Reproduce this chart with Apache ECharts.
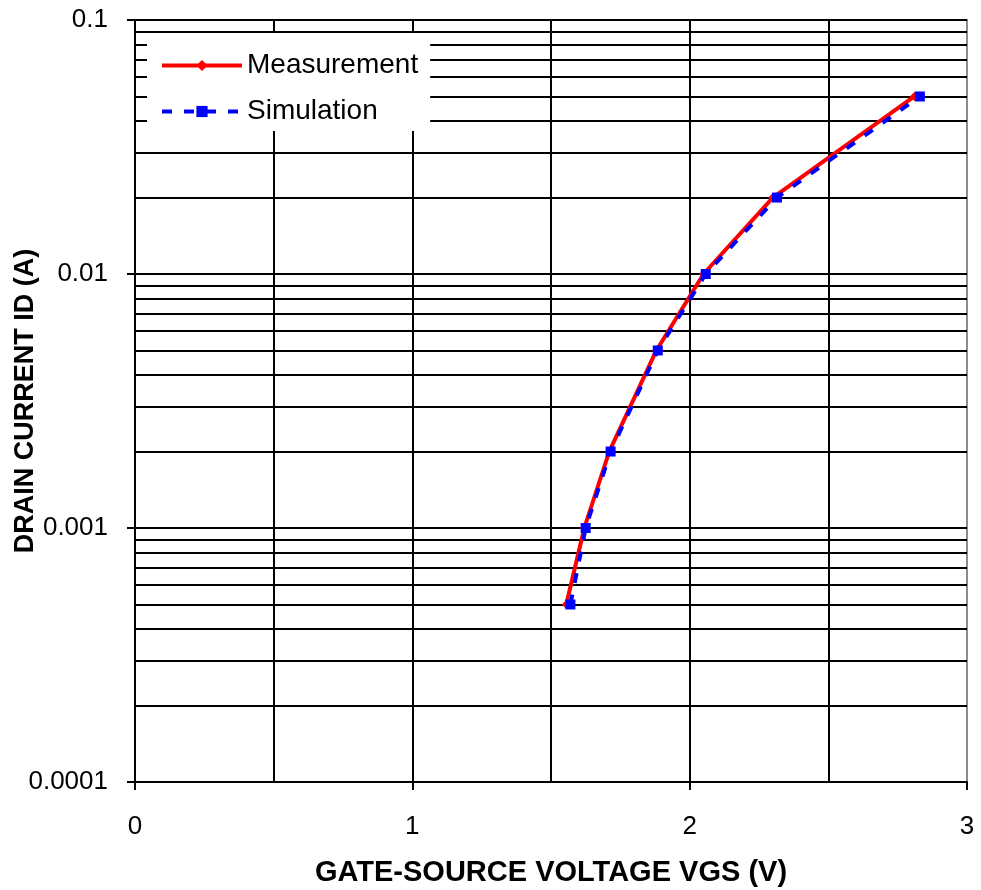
<!DOCTYPE html>
<html>
<head>
<meta charset="utf-8">
<script src="https://cdn.jsdelivr.net/npm/echarts@6/dist/echarts.min.js"></script>
<style>html,body{margin:0;padding:0;background:#fff}#c{width:981px;height:890px}</style>
</head>
<body>
<div id="c"></div>
<script>
// Data
var measurementVgs = [1.555, 1.62, 1.71, 1.88, 2.05, 2.30, 2.81];
var measurementId  = [0.0005, 0.001, 0.002, 0.005, 0.01, 0.02, 0.05];
var simulationVgs  = [1.57, 1.625, 1.715, 1.885, 2.058, 2.315, 2.83];
var simulationId   = [0.0005, 0.001, 0.002, 0.005, 0.01, 0.02, 0.05];
var yTickLabels = ['0.0001', '0.001', '0.01', '0.1'];
var xTickLabels = ['0', '1', '2', '3'];

function pairs(xs, ys) { return xs.map(function (x, i) { return [x, ys[i]]; }); }

var FONT = '"Liberation Sans", Arial, sans-serif';
var chart = echarts.init(document.getElementById('c'), null, { renderer: 'canvas' });
chart.setOption({
  animation: false,
  backgroundColor: '#fff',
  grid: { left: 135, right: 14, top: 20, bottom: 108, outerBoundsMode: 'none', containLabel: false,
          show: true, borderColor: '#8c8c8c', borderWidth: 2, backgroundColor: 'transparent' },
  legend: {
    left: 147, top: 33, orient: 'vertical',
    backgroundColor: '#fff', padding: [17, 12, 4, 13],
    itemWidth: 80, itemHeight: 14, itemGap: 15,
    lineStyle: { width: 4 },
    textStyle: { fontFamily: FONT, fontSize: 28, color: '#000', lineHeight: 31 },
    data: ['Measurement', 'Simulation']
  },
  xAxis: {
    type: 'value', min: 0, max: 3, interval: 1,
    axisLine: { show: true, onZero: false, lineStyle: { color: '#000', width: 2 } },
    axisTick: { show: true, inside: false, length: 8, lineStyle: { color: '#000', width: 2 } },
    axisLabel: { margin: 32, fontFamily: FONT, fontSize: 26, color: '#000',
      formatter: function (v) { return xTickLabels[Math.round(v)]; } },
    splitLine: { show: true, showMaxLine: false, lineStyle: { color: '#000', width: 2 } },
    minorTick: { show: false, splitNumber: 2 },
    minorSplitLine: { show: true, lineStyle: { color: '#000', width: 2 } },
    name: 'GATE-SOURCE VOLTAGE VGS (V)', nameLocation: 'middle', nameGap: 76,
    nameTextStyle: { fontFamily: FONT, fontSize: 29, fontWeight: 'bold', color: '#000' }
  },
  yAxis: {
    type: 'log', logBase: 10, min: 0.0001, max: 0.1,
    axisLine: { show: true, onZero: false, lineStyle: { color: '#000', width: 2 } },
    axisTick: { show: true, inside: false, length: 8, lineStyle: { color: '#000', width: 2 } },
    axisLabel: { margin: 27, fontFamily: FONT, fontSize: 26, color: '#000',
      formatter: function (v, i) { return yTickLabels[Math.round(Math.log10(v)) + 4]; } },
    splitLine: { show: true, showMaxLine: false, lineStyle: { color: '#000', width: 2 } },
    minorTick: { show: false, splitNumber: 9 },
    minorSplitLine: { show: true, lineStyle: { color: '#000', width: 2 } },
    name: 'DRAIN CURRENT ID (A)', nameLocation: 'middle', nameGap: 96, nameMoveOverlap: false,
    nameTextStyle: { fontFamily: FONT, fontSize: 27, fontWeight: 'bold', color: '#000' }
  },
  series: [
    {
      name: 'Measurement', type: 'line', data: pairs(measurementVgs, measurementId),
      symbol: 'diamond', symbolSize: 9, showSymbol: true,
      lineStyle: { color: '#ff0000', width: 4 },
      itemStyle: { color: '#ff0000' },
      z: 3
    },
    {
      name: 'Simulation', type: 'line', data: pairs(simulationVgs, simulationId),
      symbol: 'rect', symbolSize: 10, showSymbol: true,
      lineStyle: { color: '#0000ff', width: 4, type: [10, 12] },
      itemStyle: { color: '#0000ff' },
      z: 4
    }
  ]
});
</script>
</body>
</html>
